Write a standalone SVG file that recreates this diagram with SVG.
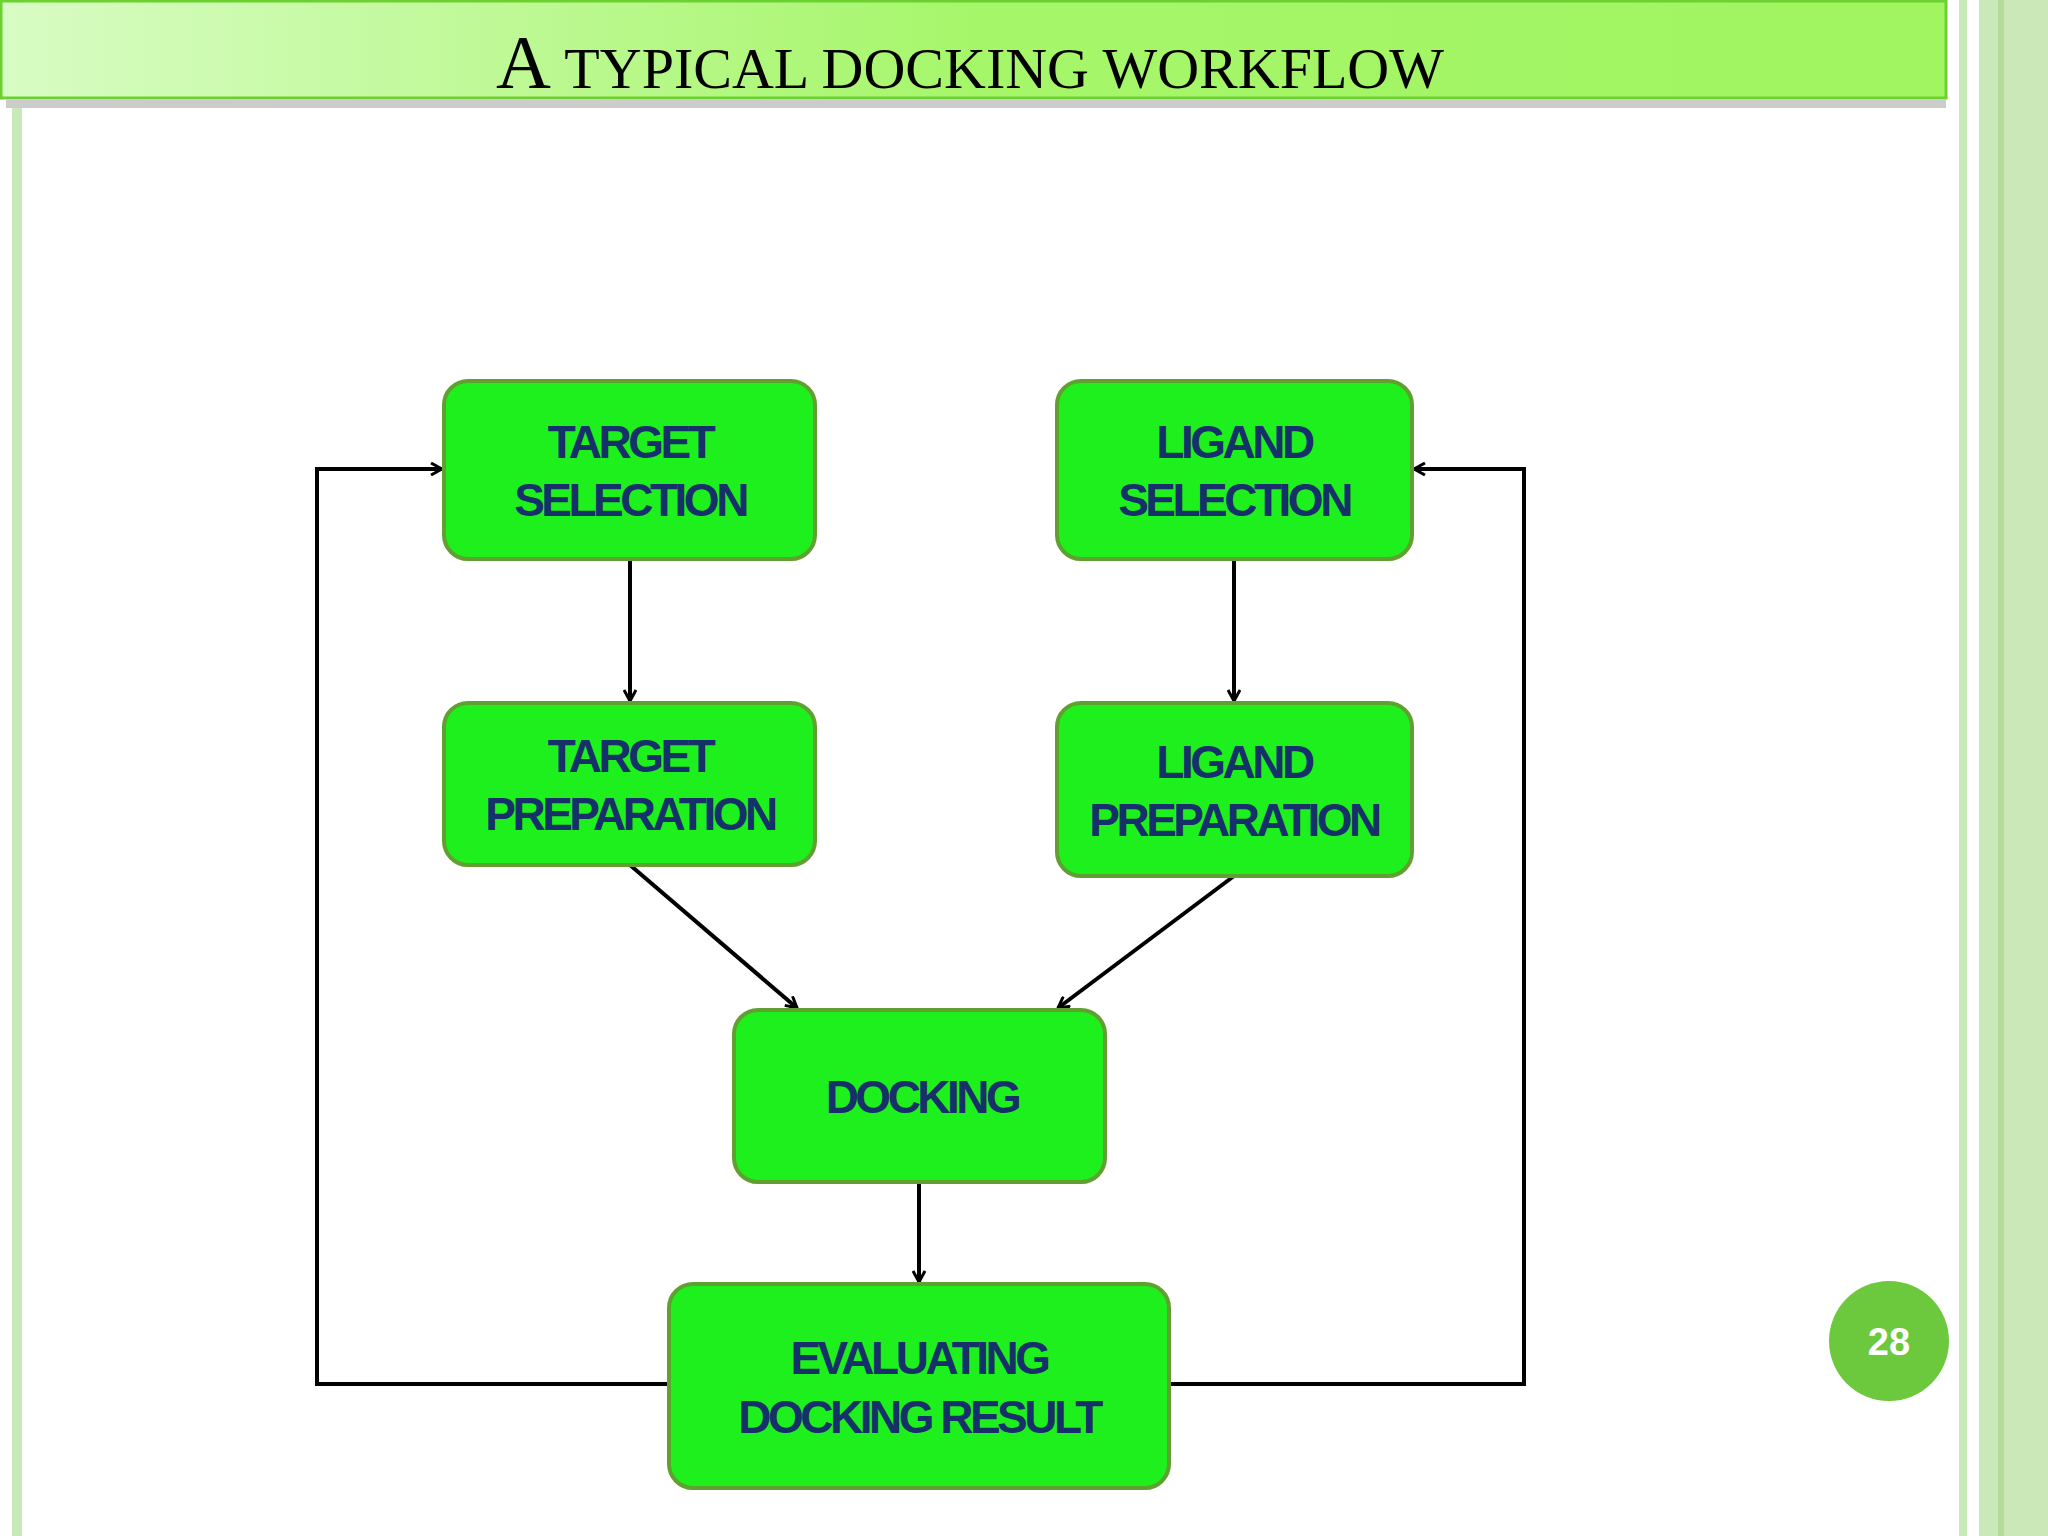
<svg xmlns="http://www.w3.org/2000/svg" width="2048" height="1536" viewBox="0 0 2048 1536">
<defs>
<linearGradient id="tg" x1="0" x2="1" y1="0" y2="0"><stop offset="0" stop-color="#d8fcc4"/><stop offset="0.5" stop-color="#a6f66a"/><stop offset="1" stop-color="#a0f560"/></linearGradient>
<marker id="ah" markerWidth="14" markerHeight="14" refX="12" refY="7" orient="auto" markerUnits="userSpaceOnUse"><path d="M1,1 L12,7 L1,13" fill="none" stroke="#000" stroke-width="3"/></marker>
</defs>
<style>
.box{fill:#1ef01e;stroke:#5fa030;stroke-width:4}
.t{font-family:"Liberation Sans",Arial,sans-serif;font-weight:bold;font-size:46px;fill:#16306a;text-anchor:middle;letter-spacing:-3.5px}
.c{fill:none;stroke:#000;stroke-width:4}
</style>
<rect width="2048" height="1536" fill="#fff"/>
<rect x="12" y="100" width="10" height="1436" fill="#c8eab8"/>
<rect x="1959" y="0" width="8" height="1536" fill="#c8eab8"/>
<rect x="1979" y="0" width="69" height="1536" fill="#cbe8b8"/>
<rect x="1998" y="0" width="6" height="1536" fill="#b2dc98"/>
<rect x="6" y="100" width="1940" height="8" fill="#ccc"/>
<rect x="1" y="1" width="1945" height="97" fill="url(#tg)" stroke="#6cd030" stroke-width="3"/>
<text x="970" y="88" text-anchor="middle" font-family="'Liberation Serif',serif" font-size="76" fill="#000">A<tspan font-size="58"> TYPICAL DOCKING WORKFLOW</tspan></text>
<g id="connectors">
<line class="c" x1="630" y1="559" x2="630" y2="701" marker-end="url(#ah)"/>
<line class="c" x1="1234" y1="559" x2="1234" y2="701" marker-end="url(#ah)"/>
<line class="c" x1="630" y1="865" x2="797" y2="1008" marker-end="url(#ah)"/>
<line class="c" x1="1234" y1="876" x2="1058" y2="1008" marker-end="url(#ah)"/>
<line class="c" x1="919" y1="1182" x2="919" y2="1282" marker-end="url(#ah)"/>
<polyline class="c" points="669,1384 317,1384 317,469 442,469" marker-end="url(#ah)"/>
<polyline class="c" points="1169,1384 1524,1384 1524,469 1414,469" marker-end="url(#ah)"/>
</g>
<g id="target-selection"><rect class="box" x="444" y="381" width="371" height="178" rx="24"/><text class="t" x="630" y="458">TARGET</text><text class="t" x="630" y="516">SELECTION</text></g>
<g id="ligand-selection"><rect class="box" x="1057" y="381" width="355" height="178" rx="24"/><text class="t" x="1234" y="458">LIGAND</text><text class="t" x="1234" y="516">SELECTION</text></g>
<g id="target-preparation"><rect class="box" x="444" y="703" width="371" height="162" rx="24"/><text class="t" x="630" y="772">TARGET</text><text class="t" x="630" y="830">PREPARATION</text></g>
<g id="ligand-preparation"><rect class="box" x="1057" y="703" width="355" height="173" rx="24"/><text class="t" x="1234" y="778">LIGAND</text><text class="t" x="1234" y="836">PREPARATION</text></g>
<g id="docking"><rect class="box" x="734" y="1010" width="371" height="172" rx="24"/><text class="t" x="922" y="1113">DOCKING</text></g>
<g id="evaluating"><rect class="box" x="669" y="1284" width="500" height="204" rx="24"/><text class="t" x="919" y="1374">EVALUATING</text><text class="t" x="919" y="1433">DOCKING RESULT</text></g>
<g id="page"><circle cx="1889" cy="1341" r="60" fill="#6cc83c"/><text x="1889" y="1355" text-anchor="middle" font-family="'Liberation Sans',sans-serif" font-weight="bold" font-size="38" fill="#fff">28</text></g>
</svg>
